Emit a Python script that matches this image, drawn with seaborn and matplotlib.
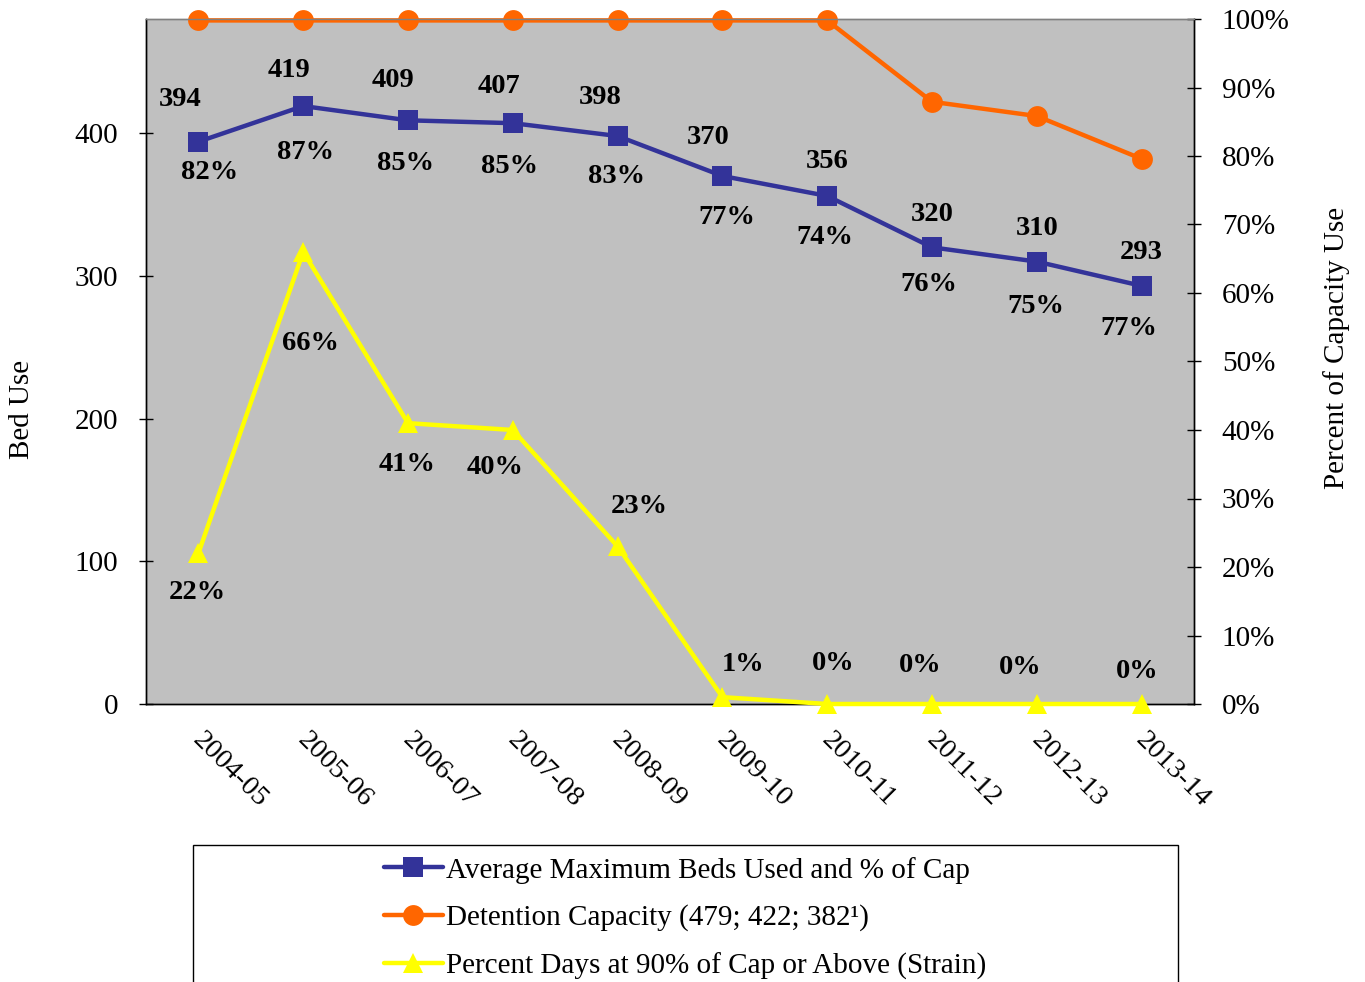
import numpy as np
import pandas as pd
import matplotlib
matplotlib.use("Agg")
import matplotlib.pyplot as plt
import matplotlib.transforms as mtransforms
from matplotlib.patches import Rectangle
from matplotlib.ticker import FuncFormatter, MultipleLocator
import seaborn as sns

# ---- data ----
years = ["2004-05", "2005-06", "2006-07", "2007-08", "2008-09",
         "2009-10", "2010-11", "2011-12", "2012-13", "2013-14"]
beds_used = [394, 419, 409, 407, 398, 370, 356, 320, 310, 293]
pct_of_cap = [82, 87, 85, 85, 83, 77, 74, 76, 75, 77]
capacity = [479, 479, 479, 479, 479, 479, 479, 422, 412, 382]
strain_pct = [22, 66, 41, 40, 23, 1, 0, 0, 0, 0]

series_names = ["Average Maximum Beds Used and % of Cap",
                "Detention Capacity (479; 422; 382\u00b9)",
                "Percent Days at 90% of Cap or Above (Strain)"]

# label offsets (pixels) relative to markers
bed_off = [(-18, 45), (-14, 39), (-15, 43), (-14, 40), (-17, 42), (-14, 41), (0, 37), (0, 36), (0, 36), (0, 36)]
pct_off = [(11, -28), (2, -43), (-2, -40), (-3, -40), (-1, -37), (4, -39), (-2, -39), (-3, -34), (-1, -42), (-13, -40)]
str_off = [(-1, -36), (7, -89), (-1, -38), (-18, -34), (22, 43), (21, 36), (6, 43), (-12, 41), (-17, 40), (-4, 36)]

BLUE = "#333399"
ORANGE = "#FF6600"
YELLOW = "#FFFF00"

sns.set_style("white")
plt.rcParams["font.family"] = ["Liberation Serif", "DejaVu Serif"]
plt.rcParams["text.color"] = "black"
plt.rcParams["axes.labelcolor"] = "black"
plt.rcParams["xtick.color"] = "black"
plt.rcParams["ytick.color"] = "black"

W, H = 1365, 982
fig = plt.figure(figsize=(W / 100, H / 100), dpi=100)
ax = fig.add_axes([146 / W, 1 - 704 / H, (1194 - 146) / W, (704 - 19) / H])
ax.set_facecolor("#C0C0C0")

df = pd.DataFrame({"year": years, "beds": beds_used, "cap": capacity,
                   "strain": np.array(strain_pct) / 100.0})
df["x"] = np.arange(len(years))

sns.lineplot(data=df, x="x", y="cap", ax=ax, color=ORANGE, marker="o",
             markersize=15, linewidth=3.2, markeredgewidth=0, clip_on=False,
             zorder=3, sort=False)
sns.lineplot(data=df, x="x", y="beds", ax=ax, color=BLUE, marker="s",
             markersize=14, linewidth=3.2, markeredgewidth=0, clip_on=False,
             zorder=4, sort=False)

ax.set_xlim(-0.5, len(years) - 0.5)
ax.set_ylim(0, 480)
ax.yaxis.set_major_locator(MultipleLocator(100))

ax2 = ax.twinx()
sns.lineplot(data=df, x="x", y="strain", ax=ax2, color=YELLOW, marker="^",
             markersize=15, linewidth=3.2, markeredgewidth=0, clip_on=False,
             zorder=5, sort=False)
ax2.set_ylim(0, 1.0)
ax2.yaxis.set_major_locator(MultipleLocator(0.1))
ax2.yaxis.set_major_formatter(FuncFormatter(lambda v, p: f"{v*100:.0f}%"))
ax2.set_xlim(-0.5, len(years) - 0.5)

# ticks
ax.set_xticks(df["x"])
ax.set_xticklabels(years)
ax.set_xticks(np.arange(-0.5, len(years)), minor=True)
ax.tick_params(axis="x", which="major", length=0, pad=17, labelsize=20.5)
ax.tick_params(axis="x", which="minor", length=10, direction="inout", width=1, color="black")
ax.tick_params(axis="y", which="major", length=10, direction="inout", width=1, labelsize=21, pad=15)
ax2.tick_params(axis="y", which="major", length=10, direction="inout", width=1, labelsize=21, pad=15)
offset = mtransforms.ScaledTranslation(7 / 100, 0, fig.dpi_scale_trans)
for lbl in ax.get_xticklabels():
    lbl.set_rotation(-45)
    lbl.set_ha("left")
    lbl.set_va("top")
    lbl.set_rotation_mode("anchor")
    lbl.set_transform(lbl.get_transform() + offset)

ax.set_xlabel("")
ax.set_ylabel("")
ax2.set_ylabel("")
fig.text(22 / W, 1 - 409 / H, "Bed Use", rotation=90, ha="center", va="center", fontsize=21)
fig.text(1337 / W, 1 - 348 / H, "Percent of Capacity Use", rotation=90, ha="center", va="center", fontsize=21)

for a in (ax, ax2):
    for s in a.spines.values():
        s.set_color("black")
        s.set_linewidth(1)
    a.spines["top"].set_color("#808080")

# data labels
dy = -3
for i in range(len(years)):
    ax.annotate(str(beds_used[i]), (i, beds_used[i]), xytext=(bed_off[i][0], bed_off[i][1] + dy),
                textcoords="offset pixels", ha="center", va="center",
                fontsize=20.5, fontweight="bold", zorder=6)
    ax.annotate(f"{pct_of_cap[i]}%", (i, beds_used[i]), xytext=(pct_off[i][0], pct_off[i][1] + dy),
                textcoords="offset pixels", ha="center", va="center",
                fontsize=20.5, fontweight="bold", zorder=6)
    ax2.annotate(f"{strain_pct[i]}%", (i, strain_pct[i] / 100.0), xytext=(str_off[i][0], str_off[i][1] + dy),
                 textcoords="offset pixels", ha="center", va="center",
                 fontsize=20.5, fontweight="bold", zorder=6)

# legend
handles = [
    plt.Line2D([], [], color=BLUE, marker="s", markersize=14, linewidth=3.2, markeredgewidth=0),
    plt.Line2D([], [], color=ORANGE, marker="o", markersize=15, linewidth=3.2, markeredgewidth=0),
    plt.Line2D([], [], color=YELLOW, marker="^", markersize=15, linewidth=3.2, markeredgewidth=0),
]
fig.patches.append(Rectangle((193 / W, -0.02), (1178 - 193) / W, 0.02 + 1 - 845 / H,
                             transform=fig.transFigure, fill=False,
                             edgecolor="black", linewidth=1))
fig.legend(handles, series_names, loc="upper center",
           bbox_to_anchor=(685 / W, 1 - 842 / H), frameon=False, fontsize=21,
           handlelength=2.0, handletextpad=0.1, labelspacing=0.72,
           borderpad=0)

fig.savefig("out.png", dpi=100)
